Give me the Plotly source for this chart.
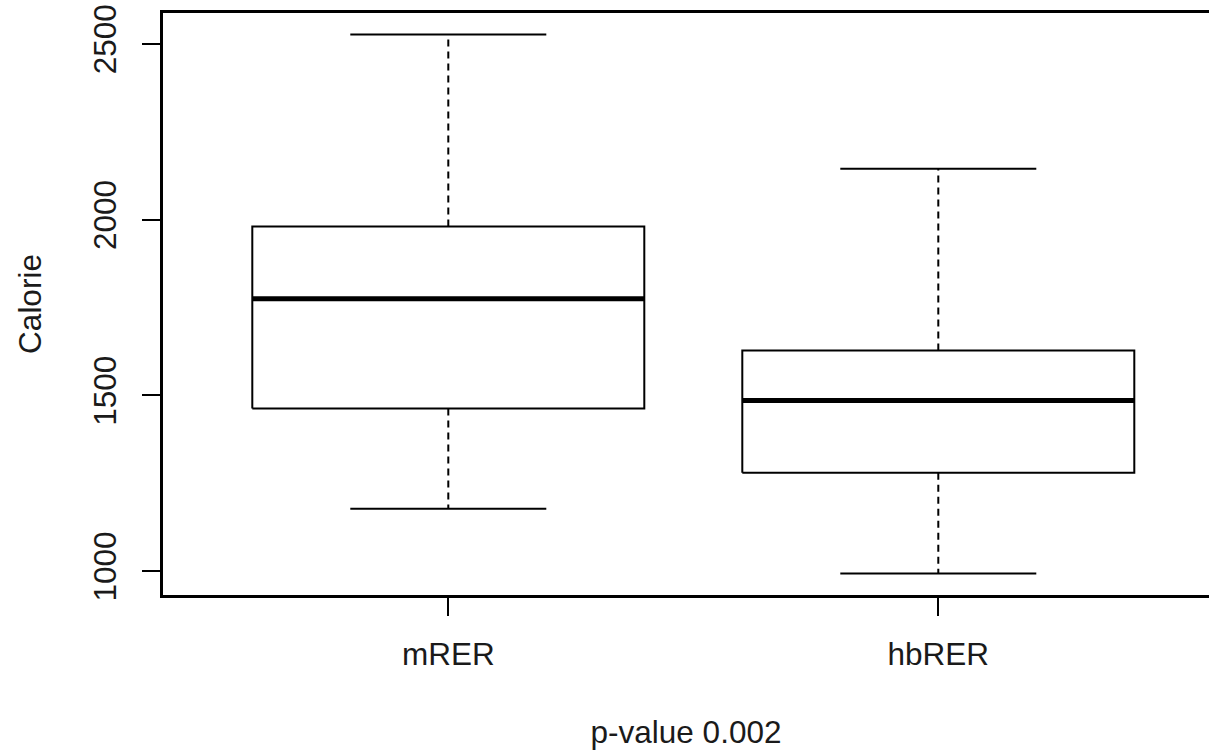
import plotly.graph_objects as go

# ---- data ----
groups = ["mRER", "hbRER"]
lower_whisker = [1178, 994]
q1 = [1463, 1280]
median = [1775, 1486]
q3 = [1981, 1628]
upper_whisker = [2527, 2145]

y_ticks = [1000, 1500, 2000, 2500]
y_title = "Calorie"
x_title = "p-value 0.002"

# ---- style ----
half_w = 0.4      # box half width (x units)
cap_w = 0.2       # staple half width
black = "#000000"
font_family = "Liberation Sans, Arial, sans-serif"
fsize = 31.5

fig = go.Figure()
for i, g in enumerate(groups):
    c = i + 1
    fig.add_trace(go.Scatter(
        x=[c - half_w, c + half_w, c + half_w, c - half_w, c - half_w],
        y=[q1[i], q1[i], q3[i], q3[i], q1[i]],
        mode="lines", line=dict(color=black, width=2),
        showlegend=False, hoverinfo="skip"))
    fig.add_trace(go.Scatter(
        x=[c - half_w, c + half_w], y=[median[i], median[i]],
        mode="lines", line=dict(color=black, width=5),
        showlegend=False, hoverinfo="skip"))
    fig.add_trace(go.Scatter(
        x=[c, c, None, c, c],
        y=[q3[i], upper_whisker[i], None, q1[i], lower_whisker[i]],
        mode="lines", line=dict(color=black, width=2, dash="7px,5px"),
        showlegend=False, hoverinfo="skip"))
    fig.add_trace(go.Scatter(
        x=[c - cap_w, c + cap_w, None, c - cap_w, c + cap_w],
        y=[upper_whisker[i], upper_whisker[i], None, lower_whisker[i], lower_whisker[i]],
        mode="lines", line=dict(color=black, width=2),
        showlegend=False, hoverinfo="skip"))

W, H = 1209, 750
L, R, T = 163, 0, 13
B = H - 595.5
px_per_unit = 490.0
x0 = 1 - (448.3 - L) / px_per_unit
x1 = x0 + (W - L - R) / px_per_unit

fig.update_layout(
    width=W, height=H,
    margin=dict(l=L, r=R, t=T, b=B, pad=0),
    paper_bgcolor="white", plot_bgcolor="white",
    font=dict(family=font_family, size=fsize, color="#1a1a1a"),
    xaxis=dict(
        range=[x0, x1], tickmode="array", tickvals=[1, 2], ticktext=groups,
        showgrid=False, zeroline=False,
        showline=True, mirror=True, linecolor=black, linewidth=2.5,
        ticks="outside", ticklen=18, tickwidth=2, tickcolor=black,
        ticklabelstandoff=11,
        tickfont=dict(size=fsize, color="#1a1a1a"),
        title=dict(text=x_title, standoff=58, font=dict(size=fsize)),
        automargin=False,
    ),
    yaxis=dict(
        range=[932.5, 2588], tickmode="array", tickvals=y_ticks,
        ticktext=[str(v) for v in y_ticks], tickangle=-90,
        ticklabeloverflow="allow",
        showgrid=False, zeroline=False,
        showline=True, mirror=False, linecolor=black, linewidth=2.5,
        ticks="outside", ticklen=18, tickwidth=2, tickcolor=black,
        ticklabelstandoff=14,
        tickfont=dict(size=fsize, color="#1a1a1a"),
        title=dict(text=y_title, standoff=36, font=dict(size=fsize)),
        automargin=False,
    ),
)

fig.write_html(
    "out.html",
    config={"displayModeBar": False},
    post_script="document.body.style.margin='0';document.body.style.overflow='hidden';",
)
